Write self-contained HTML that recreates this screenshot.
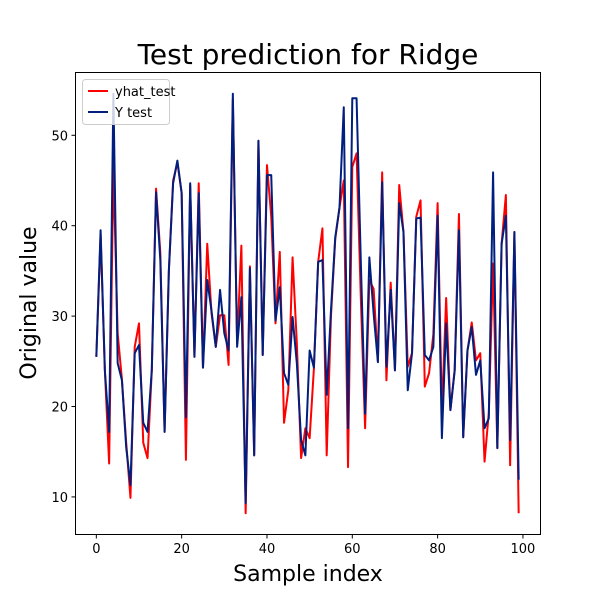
<!DOCTYPE html>
<html><head><meta charset="utf-8"><style>
body{margin:0;background:#fff;}
svg text{font-family:"DejaVu Sans","Liberation Sans",sans-serif;}
</style></head><body>
<svg id="chart" width="600" height="600" xmlns="http://www.w3.org/2000/svg">
<rect width="600" height="600" fill="#fff"/>
<text x="308" y="64" font-size="28" text-anchor="middle">Test prediction for Ridge</text>
<g id="xticks"></g>
<g id="yticks"></g>
<g id="series"></g>
<rect x="75.5" y="72.5" width="465" height="462" fill="none" stroke="#000" stroke-width="1"/>
<text x="308" y="581" font-size="22" text-anchor="middle">Sample index</text>
<text transform="translate(36,303) rotate(-90)" font-size="22" text-anchor="middle">Original value</text>
<g>
<rect x="82.5" y="79.5" width="87" height="45" rx="3" fill="#fff" fill-opacity="0.8" stroke="#ccc"/>
<g><line x1="88" y1="91" x2="108" y2="91" stroke="#ff0000" stroke-width="2"/><text x="115" y="96" font-size="13">yhat_test</text></g>
<g><line x1="88" y1="112" x2="108" y2="112" stroke="#001f7f" stroke-width="2"/><text x="115" y="117" font-size="13">Y test</text></g>
</g>
</svg>
<script>
const xTicks=[0,20,40,60,80,100];
const yTicks=[10,20,30,40,50];
const yTest=[25.5,39.5,24,17.2,54.6,24.8,22.9,15.5,11.3,25.9,26.8,18.2,17.2,24,43.7,36.2,17.2,35,44.7,47.2,43.6,18.8,44.7,25.5,43.6,24.3,34,30.6,26.6,32.9,28.1,26.2,54.6,26.6,32.1,9.3,35.3,14.6,49.4,25.7,45.6,45.6,29.5,33.2,23.7,22.4,29.9,24.8,16.3,14.6,26.2,24.3,36,36.2,21.3,30.6,38.7,42,53.1,17.6,54.1,54.1,36,19.2,36.5,30.3,24.9,44.8,24.4,32.9,24,42.5,39.3,21.8,25.9,40.8,40.9,25.7,25.1,26.6,41.1,16.5,29.2,19.6,24,39.5,16.6,26.2,28.8,23.5,25.1,17.6,18.7,45.9,15.4,38,41.1,16.3,39.3,11.9];
const yhatTest=[25.5,39,24,13.7,46.5,28.1,23,16,9.9,26.6,29.2,16,14.3,24,44.1,37,17.2,35,45,47,43.6,14.1,44.5,25.5,44.7,24.3,38,30.3,26.6,30.1,30.1,24.6,54,27,37.8,8.2,35.5,14.6,49.4,25.7,46.7,41,29.2,37.1,18.2,21.8,36.5,27,14.3,17.6,16.5,24.2,36,39.7,14.6,30,38.5,42,45,13.3,46.5,48,32,17.6,34,33,25,45.9,22.9,33.7,24,44.5,39.3,24.4,25.9,41,42.8,22.2,23.7,28,42.5,19.3,32,19.6,24,41.3,16.6,26.2,29.3,25.1,25.9,13.9,19.3,35.8,15.4,38,43.4,13.5,39.3,8.2];
const NS="http://www.w3.org/2000/svg";
function sx(v){return 75+(v+5)*465/109;}
function sy(v){return 534-(v-5.9)*462/51.1;}
function mk(tag,attrs,parent){const e=document.createElementNS(NS,tag);for(const k in attrs)e.setAttribute(k,attrs[k]);parent.appendChild(e);return e;}
const gx=document.getElementById('xticks'),gy=document.getElementById('yticks'),gs=document.getElementById('series');
xTicks.forEach(t=>{const x=sx(t);
const l=mk('line',{x1:x,y1:534.5,x2:x,y2:538.5,stroke:'#000'},gx);


const tx=mk('text',{x:x,y:553,'font-size':13,'text-anchor':'middle'},gx);tx.textContent=t;

});
yTicks.forEach(t=>{const y=sy(t);
const l=mk('line',{x1:71.5,y1:y,x2:75.5,y2:y,stroke:'#000'},gy);


const tx=mk('text',{x:68,y:y+5,'font-size':13,'text-anchor':'end'},gy);tx.textContent=t;

});
function line(data,color,name){const p=mk('polyline',{points:data.map((v,i)=>sx(i)+','+sy(v)).join(' '),fill:'none',stroke:color,'stroke-width':2,'stroke-linejoin':'round'},gs);

}
line(yhatTest,'#ff0000','yhat-test-line');
line(yTest,'#001f7f','y-test-line');
</script>
</body></html>
